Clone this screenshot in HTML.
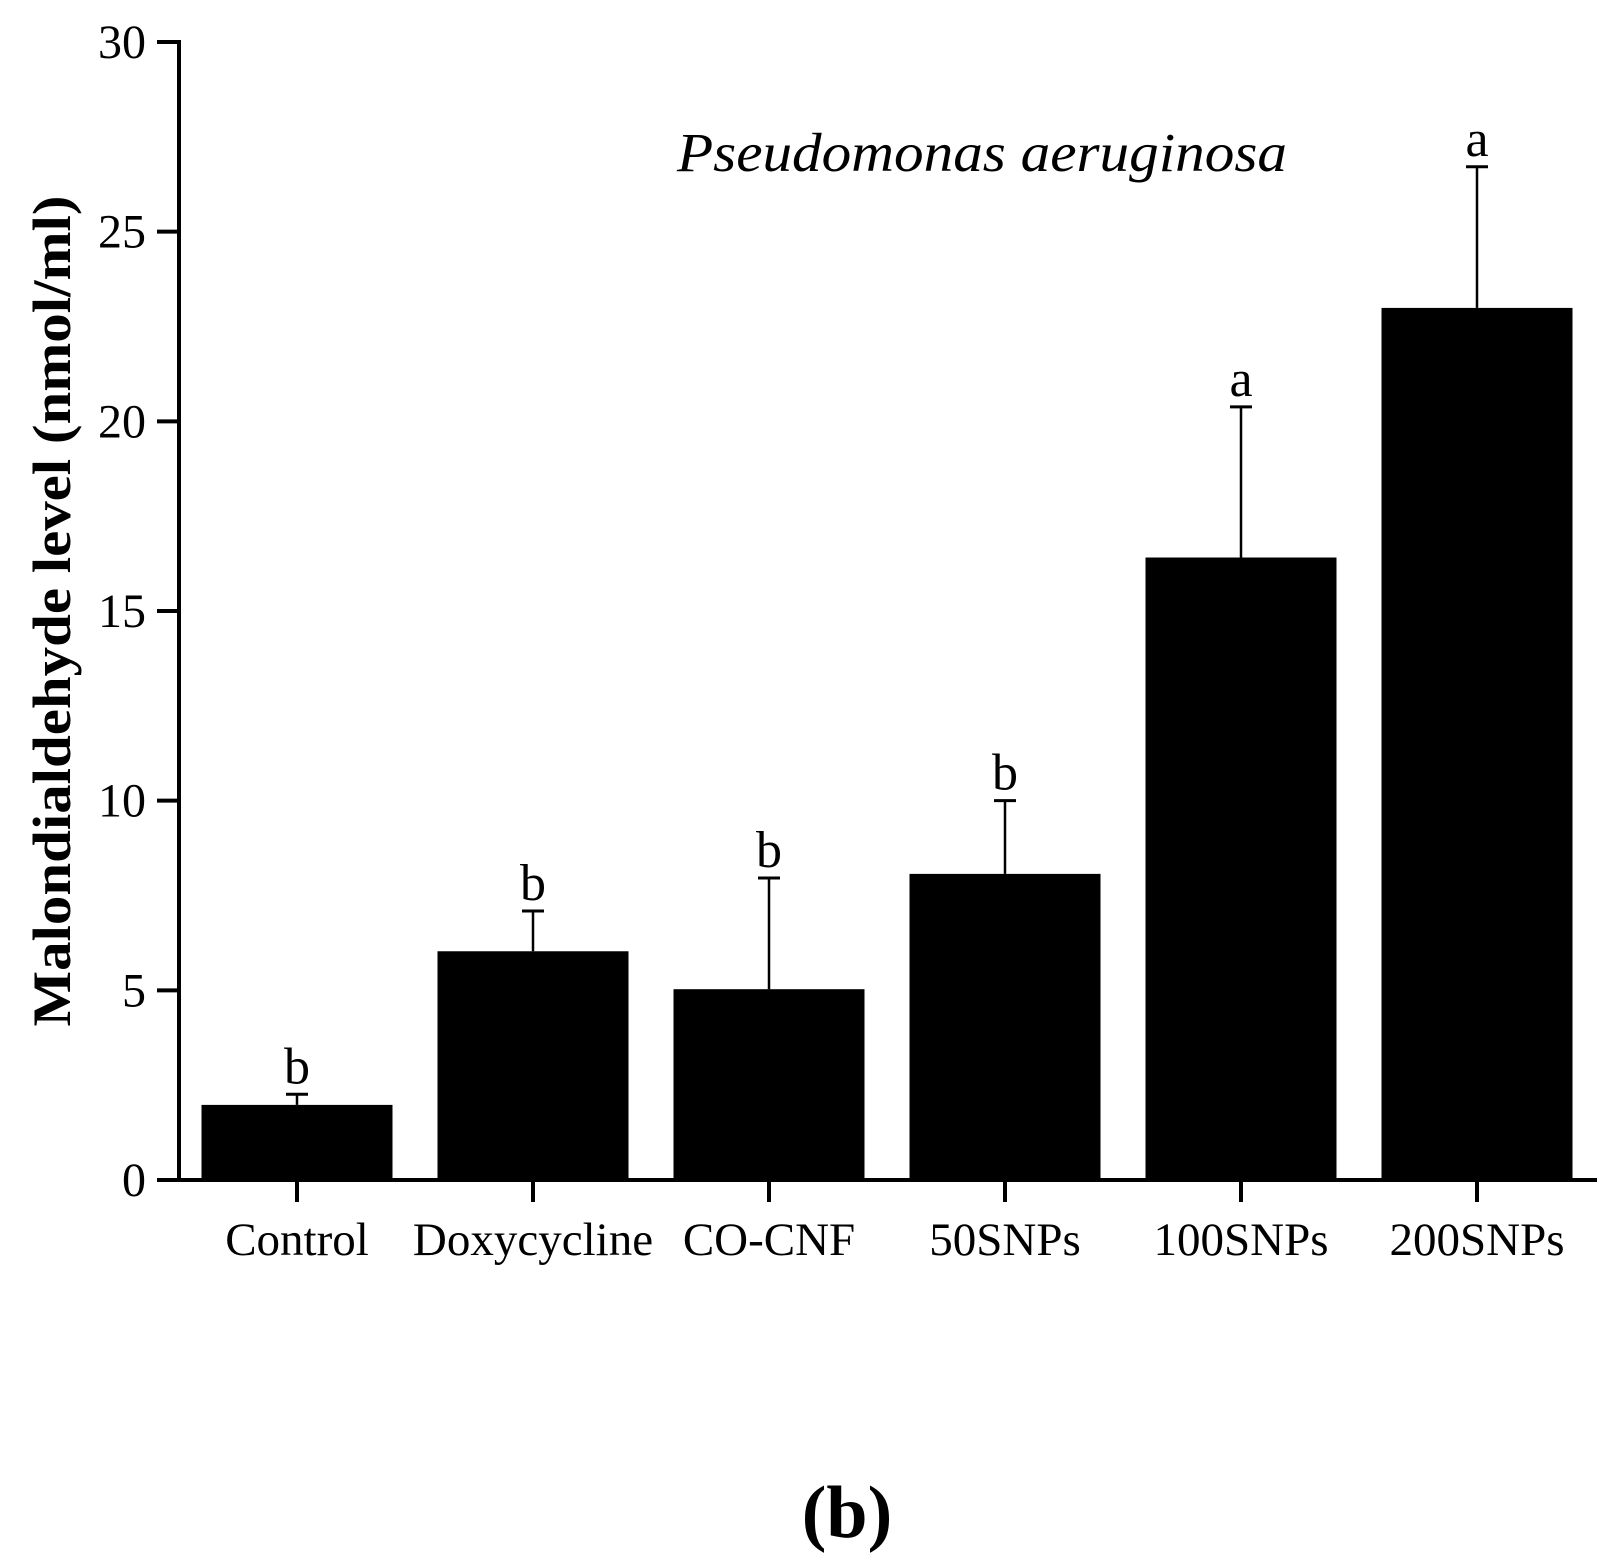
<!DOCTYPE html>
<html><head><meta charset="utf-8"><style>
html,body{margin:0;padding:0;background:#fff;}
svg{display:block;}
text{font-family:"Liberation Serif","Times New Roman",serif;fill:#000;}
</style></head><body>
<svg id="chart" width="1615" height="1568" viewBox="0 0 1615 1568" xmlns="http://www.w3.org/2000/svg">
<text x="677" y="171" font-size="55" font-style="italic" textLength="610" lengthAdjust="spacingAndGlyphs">Pseudomonas aeruginosa</text>
<text transform="translate(70,611) rotate(-90)" text-anchor="middle" font-size="54" font-weight="bold" textLength="831" lengthAdjust="spacingAndGlyphs">Malondialdehyde level (nmol/ml)</text>
<text x="847" y="1537" text-anchor="middle" font-size="74" font-weight="bold">(b)</text>
<g id="marks"></g>
</svg>
<script>
const categories = ["Control","Doxycycline","CO-CNF","50SNPs","100SNPs","200SNPs"];
const means = [1.98, 6.03, 5.03, 8.07, 16.41, 22.99];
const upperErr = [2.26, 7.09, 7.96, 10.0, 20.38, 26.71];
const sigLetters = ["b","b","b","b","a","a"];
const yTicks = [0,5,10,15,20,25,30];

const NS = "http://www.w3.org/2000/svg";
const g = document.getElementById('marks');
const y0 = 1180, y30 = 42, yMax = 30;
function yScale(v){ return y0 - (y0 - y30) * v / yMax; }
const xFirst = 297, xStep = 236, barW = 191;
function xScale(i){ return xFirst + i * xStep; }
function mk(tag, attrs){ const e = document.createElementNS(NS, tag); for (const k in attrs) e.setAttribute(k, attrs[k]); g.appendChild(e); return e; }

categories.forEach((c, i) => {
  const cx = xScale(i);
  const top = yScale(means[i]);
  const r = mk('rect', {x: cx - barW/2, y: top, width: barW, height: y0 - top, fill: '#000'});
  
  
  const ey = yScale(upperErr[i]);
  const l = mk('line', {x1: cx, x2: cx, y1: top, y2: ey, stroke: '#000', 'stroke-width': 2.5});
  
  
  const cap = mk('line', {x1: cx - 11, x2: cx + 11, y1: ey, y2: ey, stroke: '#000', 'stroke-width': 3});
  
  
  const s = mk('text', {x: cx, y: ey - 11, 'text-anchor': 'middle', 'font-size': 52});
  s.textContent = sigLetters[i];
  
  
  const t = mk('line', {x1: cx, x2: cx, y1: y0, y2: y0 + 22, stroke: '#000', 'stroke-width': 4});
  
  
  const lb = mk('text', {x: cx, y: 1255, 'text-anchor': 'middle', 'font-size': 47});
  lb.textContent = c;
  
  
});

yTicks.forEach(v => {
  const y = yScale(v);
  const t = mk('line', {x1: 157, x2: 179, y1: y, y2: y, stroke: '#000', 'stroke-width': 4});
  
  
  const lb = mk('text', {x: 146, y: y + 16, 'text-anchor': 'end', 'font-size': 48});
  lb.textContent = v;
  
  
});

const ya = mk('line', {x1: 179, x2: 179, y1: y30 - 2, y2: y0 + 2, stroke: '#000', 'stroke-width': 4});


const xa = mk('line', {x1: 157, x2: 1597, y1: y0, y2: y0, stroke: '#000', 'stroke-width': 4});


</script>
</body></html>
